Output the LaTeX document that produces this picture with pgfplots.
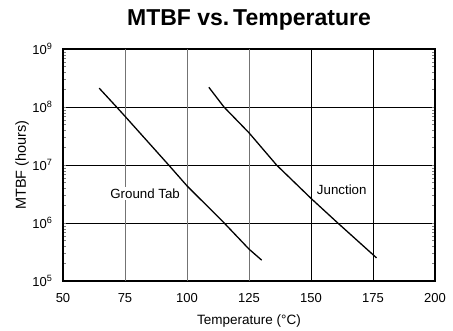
\documentclass[border=0pt]{standalone}
\usepackage{pgfplots}
\pgfplotsset{compat=1.18}
\usepackage{fontspec}
\setmainfont{Liberation Sans}
\begin{document}
\begin{tikzpicture}
\path[use as bounding box] (-63pt,-49pt) rectangle (390pt,281pt);
\begin{axis}[
  scale only axis,
  width=372pt, height=232pt,
  xmin=50, xmax=200, ymin=1e5, ymax=1e9,
  ymode=log,
  xtick={50,150,175,200},
  extra x ticks={75,100,125},
  extra x tick style={grid style={draw=black!55, line width=0.7pt}},
  ytick={1e5,1e6,1e7,1e8,1e9},
  yticklabels={10\textsuperscript{5},10\textsuperscript{6},10\textsuperscript{7},10\textsuperscript{8},10\textsuperscript{9}},
  xticklabels={50,150,175,200},
  extra x tick labels={75,100,125},
  major tick length=0pt,
  minor tick num=0,
  grid=major,
  grid style={draw=black, line width=0.6pt},
  axis line style={line width=1.4pt},
  tick label style={font=\fontsize{13}{15}\selectfont},
  /pgf/number format/assume math mode=true,
  xticklabel style={yshift=-9pt},
  yticklabel style={xshift=-7pt},
  title={\fontsize{23}{26}\selectfont\bfseries MTBF vs.\,Temperature},
  title style={anchor=base, at={(0.5,1)}, yshift=17pt},
  xlabel={Temperature (\textdegree C)},
  xlabel style={font=\fontsize{13.5}{15}\selectfont, anchor=base, at={(0.5,0)}, yshift=-44pt},
  clip=false,
]
\addplot[black, line width=1.3pt] coordinates {
  (64.6,2.11e8) (71.6,1e8) (75,6.92e7) (92.6,1e7) (100,4.37e6) (115,1e6) (125,3.55e5) (130.1,2.29e5)
};
\addplot[black, line width=1.3pt] coordinates {
  (108.8,2.19e8) (114.9,1e8) (125,3.59e7) (136.1,1e7) (150,2.66e6) (160.8,1e6) (176.4,2.51e5)
};
\node[fill=white, inner sep=1.5pt, font=\fontsize{13.3}{15}\selectfont] at (axis cs:83.1,3.2e6) {Ground Tab};
\node[inner sep=1pt, font=\fontsize{13.3}{15}\selectfont] at (axis cs:162.4,3.7e6) {Junction};
\node[rotate=90, font=\fontsize{14.5}{16}\selectfont] at ([xshift=-41pt]rel axis cs:0,0.5) {MTBF (hours)};
\end{axis}
\end{tikzpicture}
\end{document}
